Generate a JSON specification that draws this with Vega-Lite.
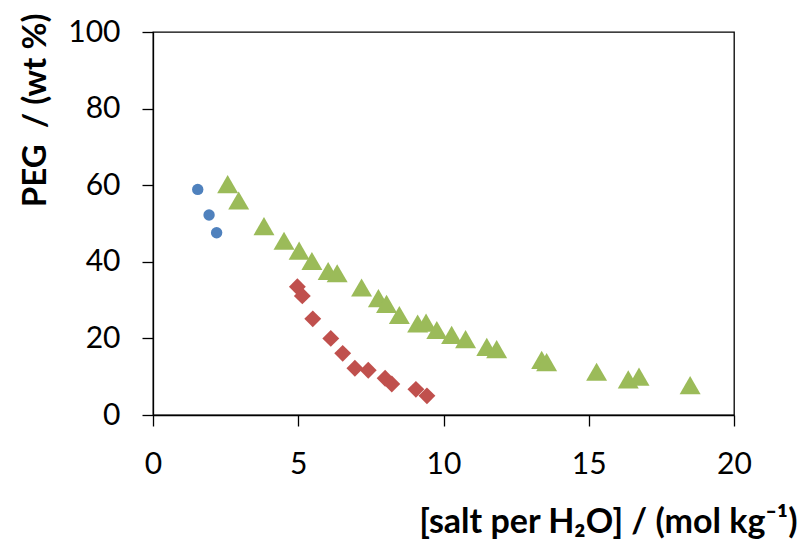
{
  "$schema": "https://vega.github.io/schema/vega-lite/v6.json",
  "width": 581,
  "height": 383,
  "autosize": {"type": "none"},
  "padding": {"left": 153, "top": 32, "right": 69, "bottom": 126},
  "background": "white",
  "config": {
    "view": {"stroke": "#000000", "strokeWidth": 1.3},
    "font": "Lato",
    "axis": {
      "grid": false,
      "domainColor": "#000000",
      "domainWidth": 1.3,
      "tickColor": "#000000",
      "tickWidth": 1.3,
      "tickSize": 11,
      "labelFont": "Lato",
      "labelFontSize": 30,
      "labelColor": "#000000",
      "labelFlush": false,
      "titleFont": "Lato",
      "titleFontWeight": "bold",
      "titleFontSize": 33,
      "titleColor": "#000000"
    }
  },
  "data": {
    "values": [
      {"series": "S1", "salt": 1.54, "peg": 58.9},
      {"series": "S1", "salt": 1.93, "peg": 52.2},
      {"series": "S1", "salt": 2.19, "peg": 47.6},
      {"series": "S2", "salt": 4.97, "peg": 33.5},
      {"series": "S2", "salt": 5.14, "peg": 31.1},
      {"series": "S2", "salt": 5.50, "peg": 25.1},
      {"series": "S2", "salt": 6.12, "peg": 20.0},
      {"series": "S2", "salt": 6.53, "peg": 16.1},
      {"series": "S2", "salt": 6.95, "peg": 12.2},
      {"series": "S2", "salt": 7.41, "peg": 11.7},
      {"series": "S2", "salt": 7.99, "peg": 9.6},
      {"series": "S2", "salt": 8.22, "peg": 8.1},
      {"series": "S2", "salt": 9.05, "peg": 6.7},
      {"series": "S2", "salt": 9.43, "peg": 5.0},
      {"series": "S3", "salt": 2.57, "peg": 60.3},
      {"series": "S3", "salt": 2.95, "peg": 56.0},
      {"series": "S3", "salt": 3.82, "peg": 49.3},
      {"series": "S3", "salt": 4.51, "peg": 45.5},
      {"series": "S3", "salt": 5.03, "peg": 42.9},
      {"series": "S3", "salt": 5.47, "peg": 40.2},
      {"series": "S3", "salt": 6.03, "peg": 37.6},
      {"series": "S3", "salt": 6.34, "peg": 37.0},
      {"series": "S3", "salt": 7.18, "peg": 33.3},
      {"series": "S3", "salt": 7.76, "peg": 30.5},
      {"series": "S3", "salt": 8.04, "peg": 29.0},
      {"series": "S3", "salt": 8.48, "peg": 26.1},
      {"series": "S3", "salt": 9.11, "peg": 23.9},
      {"series": "S3", "salt": 9.40, "peg": 24.1},
      {"series": "S3", "salt": 9.77, "peg": 22.2},
      {"series": "S3", "salt": 10.28, "peg": 20.9},
      {"series": "S3", "salt": 10.76, "peg": 19.8},
      {"series": "S3", "salt": 11.49, "peg": 17.8},
      {"series": "S3", "salt": 11.83, "peg": 17.2},
      {"series": "S3", "salt": 13.38, "peg": 14.4},
      {"series": "S3", "salt": 13.55, "peg": 13.8},
      {"series": "S3", "salt": 15.27, "peg": 11.3},
      {"series": "S3", "salt": 16.36, "peg": 9.3},
      {"series": "S3", "salt": 16.73, "peg": 10.0},
      {"series": "S3", "salt": 18.49, "peg": 7.8}
    ]
  },
  "mark": {"type": "point", "filled": true, "opacity": 1},
  "encoding": {
    "x": {
      "field": "salt",
      "type": "quantitative",
      "scale": {"domain": [0, 20], "nice": false, "zero": false},
      "axis": {
        "values": [0, 5, 10, 15, 20],
        "labelPadding": 23,
        "title": "[salt per H₂O] / (mol kg⁻¹)",
        "titleFontSize": 34,
        "titleAnchor": "end",
        "titleAlign": "right",
        "titleBaseline": "alphabetic",
        "titleX": 644,
        "titleY": 117
      }
    },
    "y": {
      "field": "peg",
      "type": "quantitative",
      "scale": {"domain": [0, 100], "nice": false},
      "axis": {
        "values": [0, 20, 40, 60, 80, 100],
        "labelPadding": 22,
        "title": "PEG\u00a0 / (wt %)",
        "titleAnchor": "end",
        "titleAlign": "right",
        "titleAngle": 270,
        "titleBaseline": "alphabetic",
        "titleX": -108,
        "titleY": -19
      }
    },
    "shape": {
      "field": "series",
      "type": "nominal",
      "scale": {"domain": ["S1", "S2", "S3"], "range": ["circle", "diamond", "triangle-up"]},
      "legend": null
    },
    "color": {
      "field": "series",
      "type": "nominal",
      "scale": {"domain": ["S1", "S2", "S3"], "range": ["#4F81BD", "#C0504D", "#9BBB59"]},
      "legend": null
    },
    "size": {
      "field": "series",
      "type": "nominal",
      "scale": {"domain": ["S1", "S2", "S3"], "range": [130, 440, 380]},
      "legend": null
    }
  }
}
